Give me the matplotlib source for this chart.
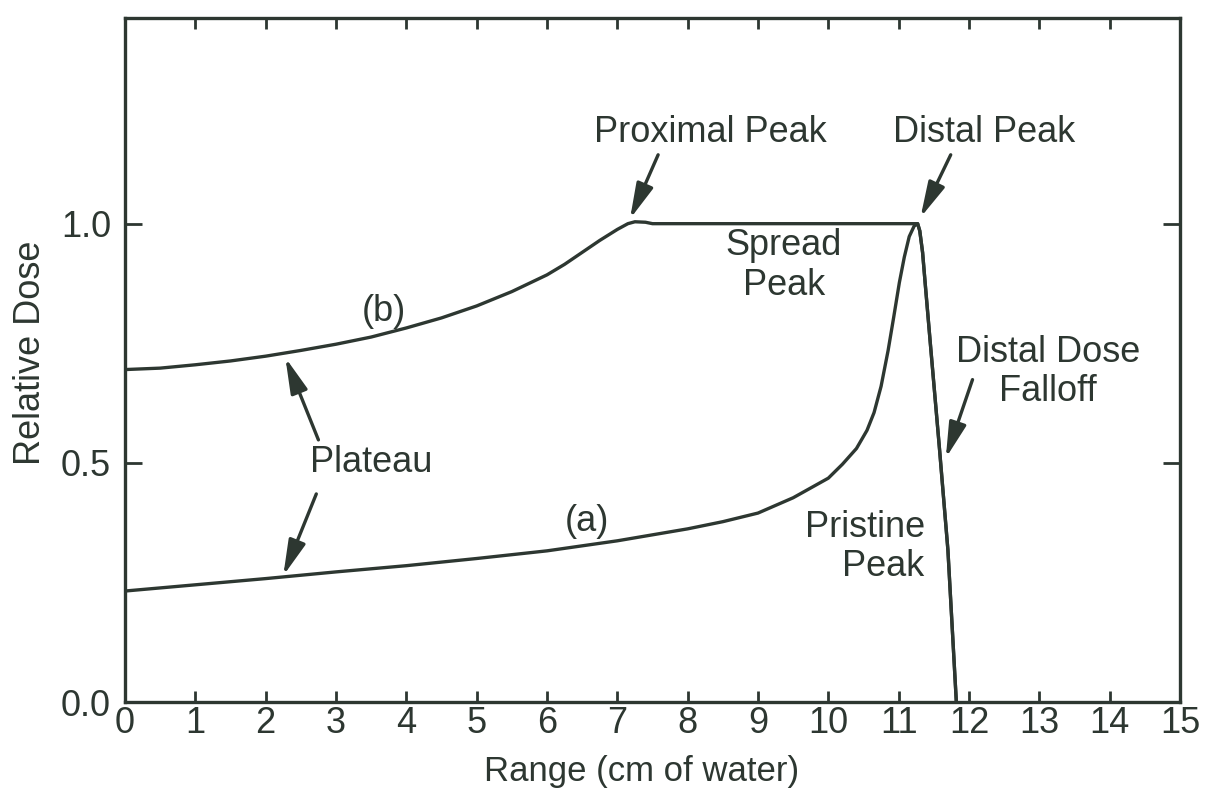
import matplotlib
matplotlib.use("Agg")
import matplotlib.pyplot as plt

# ----- DATA -----
# (a) pristine Bragg peak
a_x = [0, 1, 2, 3, 4, 5, 6, 7, 8, 8.5, 9, 9.5, 10, 10.2, 10.4, 10.55, 10.65, 10.75, 10.85,
       10.93, 11.01, 11.08, 11.15, 11.22, 11.27]
a_y = [0.232, 0.245, 0.258, 0.272, 0.285, 0.300, 0.316, 0.337, 0.362, 0.377, 0.395, 0.427, 0.468,
       0.497, 0.53, 0.568, 0.605, 0.66, 0.735, 0.805, 0.877, 0.93, 0.973, 0.995, 1.0]

# (b) spread-out Bragg peak
b_x = [0, 0.5, 1, 1.5, 2, 2.5, 3, 3.5, 4, 4.5, 5, 5.5, 6, 6.25, 6.5, 6.75, 7.0, 7.15, 7.25,
       7.4, 7.5, 9, 11.27]
b_y = [0.695, 0.698, 0.705, 0.713, 0.723, 0.735, 0.748, 0.763, 0.782, 0.803, 0.828, 0.858, 0.893,
       0.915, 0.94, 0.965, 0.988, 1.0, 1.004, 1.003, 1.0, 1.0, 1.0]

# shared distal falloff
fall_x = [11.27, 11.30, 11.34, 11.38, 11.45, 11.58, 11.70, 11.82]
fall_y = [1.0, 0.985, 0.94, 0.87, 0.75, 0.53, 0.318, 0.0]

x_ticks = list(range(0, 16))
y_ticks = [0.0, 0.5, 1.0]
y_tick_labels = ["0.0", "0.5", "1.0"]

INK = "#2d3731"
FONT = "Liberation Sans"
FS = 26

plt.rcParams["font.family"] = [FONT, "DejaVu Sans"]

fig = plt.figure(figsize=(12.08, 7.92), dpi=100)
ax = fig.add_axes([125 / 1208, 1 - 702 / 792, 1055 / 1208, 684 / 792])

ax.plot(a_x + fall_x, a_y + fall_y, color=INK, lw=2.4, solid_capstyle="round",
        solid_joinstyle="round")
ax.plot(b_x + fall_x, b_y + fall_y, color=INK, lw=2.4, solid_capstyle="round",
        solid_joinstyle="round")

ax.set_xlim(0, 15)
ax.set_ylim(0, 1.43)
ax.set_xticks(x_ticks)
ax.set_xticklabels([str(t) for t in x_ticks])
ax.set_yticks(y_ticks)
ax.set_yticklabels(y_tick_labels)
ax.tick_params(axis="x", direction="in", top=True, length=8, width=2, pad=3,
               labelsize=FS, colors=INK)
ax.tick_params(axis="y", direction="in", right=True, length=12, width=2, pad=10,
               labelsize=FS, colors=INK)
for s in ax.spines.values():
    s.set_linewidth(2.4)
    s.set_color(INK)

ax.set_xlabel("Range (cm of water)", fontsize=25, color=INK)
ax.set_ylabel("Relative Dose", fontsize=FS, color=INK)
ax.xaxis.set_label_coords(0.49, -0.077)
ax.yaxis.set_label_coords(-0.073, 0.51)

# ----- ANNOTATIONS -----
arrow = dict(arrowstyle="-|>,head_length=0.9,head_width=0.22", lw=2.4, color=INK,
             shrinkA=0, shrinkB=0, mutation_scale=24)

ax.text(8.32, 1.19, "Proximal Peak", ha="center", va="center", fontsize=FS, color=INK)
ax.annotate("", xy=(7.18, 1.01), xytext=(7.58, 1.144), arrowprops=arrow)

ax.text(12.22, 1.19, "Distal Peak", ha="center", va="center", fontsize=FS, color=INK)
ax.annotate("", xy=(11.31, 1.013), xytext=(11.74, 1.144), arrowprops=arrow)

ax.text(9.37, 0.912, "Spread\nPeak", ha="center", va="center", fontsize=FS, color=INK,
        linespacing=1.2)

ax.text(3.68, 0.816, "(b)", ha="center", va="center", fontsize=FS, color=INK)
ax.text(6.57, 0.377, "(a)", ha="center", va="center", fontsize=FS, color=INK)

ax.text(3.5, 0.50, "Plateau", ha="center", va="center", fontsize=FS, color=INK)
ax.annotate("", xy=(2.28, 0.72), xytext=(2.75, 0.548), arrowprops=arrow)
ax.annotate("", xy=(2.25, 0.264), xytext=(2.72, 0.435), arrowprops=arrow)

ax.text(13.12, 0.69, "Distal Dose\nFalloff", ha="center", va="center", fontsize=FS,
        color=INK, linespacing=1.15)
ax.annotate("", xy=(11.67, 0.51), xytext=(12.05, 0.674), arrowprops=arrow)

ax.text(11.37, 0.324, "Pristine\nPeak", ha="right", va="center", fontsize=FS, color=INK,
        multialignment="right", linespacing=1.15)

fig.savefig("out.png", dpi=100, facecolor="white")
